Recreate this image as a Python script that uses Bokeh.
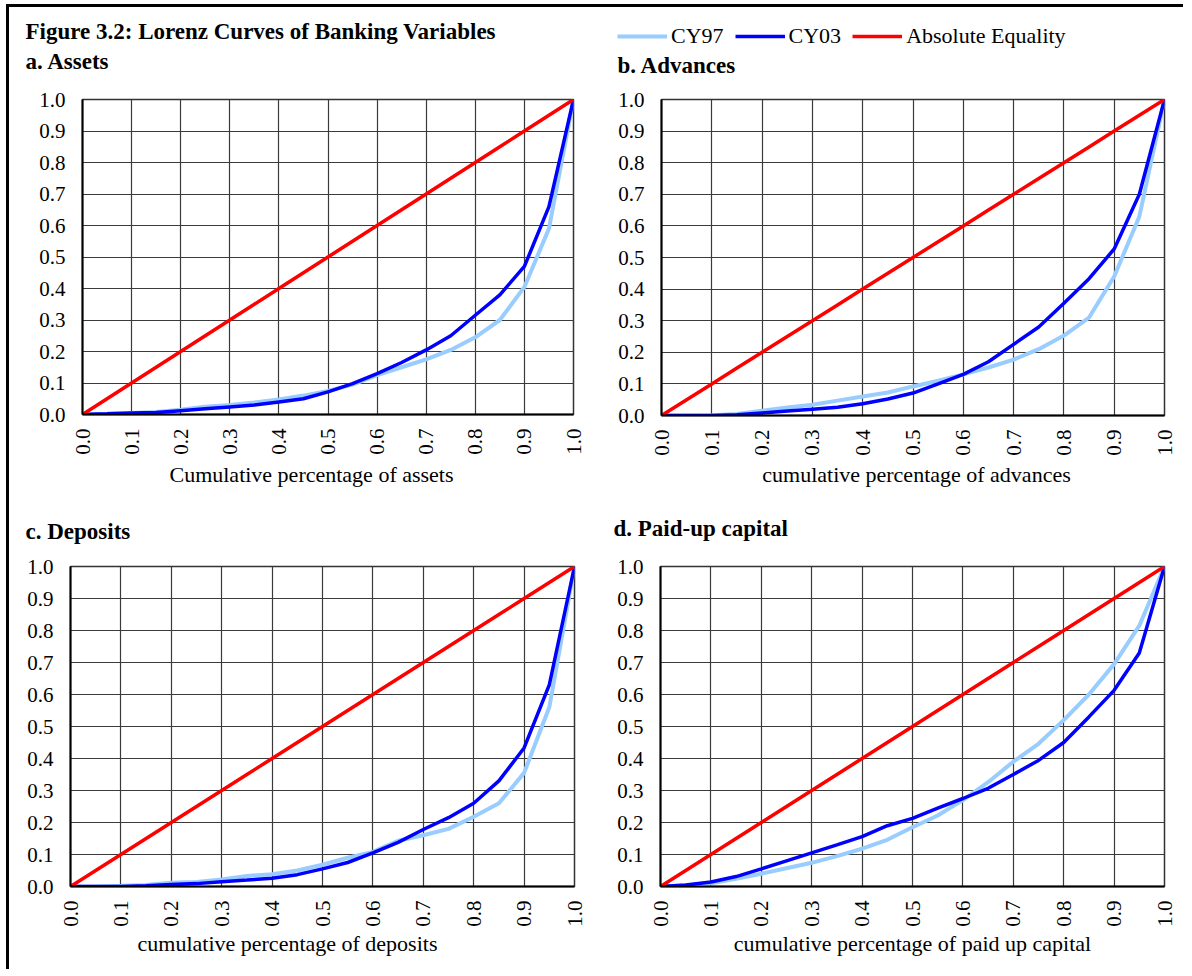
import math
from bokeh.plotting import figure
from bokeh.models import Range1d, FixedTicker, NumeralTickFormatter, Legend, LegendItem
from bokeh.core.properties import value
from bokeh.layouts import row, column
from bokeh.embed import file_html
from bokeh.resources import INLINE

# ---------------- data ----------------
share = [0.0, 0.05, 0.10, 0.15, 0.20, 0.25, 0.30, 0.35, 0.40, 0.45, 0.50,
         0.55, 0.60, 0.65, 0.70, 0.75, 0.80, 0.85, 0.90, 0.95, 1.0]
equality = [0.0, 0.05, 0.10, 0.15, 0.20, 0.25, 0.30, 0.35, 0.40, 0.45, 0.50,
            0.55, 0.60, 0.65, 0.70, 0.75, 0.80, 0.85, 0.90, 0.95, 1.0]

assets_cy97 = [0, 0.002, 0.005, 0.008, 0.015, 0.025, 0.030, 0.038, 0.048, 0.060, 0.075,
               0.095, 0.125, 0.150, 0.175, 0.205, 0.245, 0.300, 0.405, 0.590, 1.0]
assets_cy03 = [0, 0.002, 0.005, 0.006, 0.012, 0.018, 0.024, 0.030, 0.040, 0.050, 0.072,
               0.098, 0.130, 0.165, 0.205, 0.250, 0.315, 0.380, 0.470, 0.660, 1.0]

advances_cy97 = [0, 0, 0.001, 0.005, 0.015, 0.025, 0.034, 0.047, 0.060, 0.073, 0.092,
                 0.110, 0.130, 0.152, 0.177, 0.210, 0.253, 0.310, 0.440, 0.630, 1.0]
advances_cy03 = [0, 0, 0, 0.002, 0.008, 0.014, 0.020, 0.026, 0.037, 0.052, 0.071,
                 0.100, 0.130, 0.170, 0.225, 0.280, 0.355, 0.433, 0.527, 0.700, 1.0]

deposits_cy97 = [0, 0, 0.002, 0.005, 0.012, 0.014, 0.022, 0.033, 0.038, 0.050, 0.068,
                 0.090, 0.108, 0.143, 0.160, 0.180, 0.218, 0.260, 0.355, 0.560, 1.0]
deposits_cy03 = [0, 0, 0, 0.002, 0.006, 0.009, 0.015, 0.020, 0.026, 0.037, 0.055,
                 0.075, 0.105, 0.138, 0.178, 0.215, 0.260, 0.330, 0.433, 0.630, 1.0]

capital_cy97 = [0, 0.003, 0.010, 0.024, 0.040, 0.057, 0.074, 0.095, 0.118, 0.146, 0.185,
                0.222, 0.270, 0.326, 0.390, 0.446, 0.520, 0.600, 0.695, 0.815, 1.0]
capital_cy03 = [0, 0.005, 0.014, 0.031, 0.055, 0.080, 0.105, 0.130, 0.156, 0.190, 0.213,
                0.245, 0.275, 0.307, 0.350, 0.394, 0.450, 0.530, 0.613, 0.730, 1.0]

ticks = [0.0, 0.1, 0.2, 0.3, 0.4, 0.5, 0.6, 0.7, 0.8, 0.9, 1.0]

main_title = "Figure 3.2: Lorenz Curves of Banking Variables"
panel_titles = ["a. Assets", "b. Advances", "c. Deposits", "d. Paid-up capital"]
axis_titles = ["Cumulative percentage of assets", "cumulative percentage of advances",
               "cumulative percentage of deposits", "cumulative percentage of paid up capital"]
series_names = ["CY97", "CY03", "Absolute Equality"]

FONT = "Liberation Serif"
C97 = "#99CCFF"
C03 = "#0000FF"
CEQ = "#FF0000"
W97, W03, WEQ = 4, 3.5, 3.5
NAN = float("nan")


def panel(y97, y03, fw, fh, bl, br, bt, bb):
    p = figure(frame_width=fw, frame_height=fh,
               min_border_left=bl, min_border_right=br,
               min_border_top=bt, min_border_bottom=bb,
               x_range=Range1d(0, 1), y_range=Range1d(0, 1),
               output_backend="svg", toolbar_location=None,
               background_fill_color="white", border_fill_color="white")
    p.outline_line_color = "#333333"
    p.outline_line_width = 1.5
    for ax in (p.xaxis, p.yaxis):
        ax.ticker = FixedTicker(ticks=ticks)
        ax.formatter = NumeralTickFormatter(format="0.0")
        ax.major_tick_out = 0
        ax.major_tick_in = 0
        ax.minor_tick_out = 0
        ax.minor_tick_in = 0
        ax.axis_line_color = "black"
        ax.axis_line_width = 2
        ax.major_label_text_font = FONT
        ax.major_label_text_font_size = "21px"
        ax.major_label_text_color = "black"
    p.yaxis.major_label_standoff = 17
    p.xaxis.major_label_standoff = 14
    p.xaxis.major_label_orientation = math.pi / 2
    p.grid.ticker = FixedTicker(ticks=ticks)
    p.grid.grid_line_color = "#3a3a3a"
    p.grid.grid_line_width = 1.2
    p.grid.grid_line_alpha = 1.0

    p.line(share, y97, line_color=C97, line_width=W97)
    p.line(share, y03, line_color=C03, line_width=W03)
    p.line(share, equality, line_color=CEQ, line_width=WEQ)
    return p


def band(w, h):
    b = figure(frame_width=w, frame_height=h, min_border=0,
               x_range=Range1d(0, w), y_range=Range1d(h, 0),
               x_axis_type=None, y_axis_type=None,
               output_backend="svg", toolbar_location=None,
               background_fill_color="white", border_fill_color="white")
    b.outline_line_color = None
    b.grid.visible = False
    return b


def put_text(b, xs, ys, texts, size, bold=False, align="left"):
    b.text(x=xs, y=ys, text=texts, text_font=value(FONT), text_font_size=value(size),
           text_font_style="bold" if bold else "normal", text_color="black",
           text_align=align, text_baseline="middle")


TOTAL_W = 1174

# header band: figure title, legend, panel titles a/b
top = band(TOTAL_W, 81)
put_text(top, [16], [24], [main_title], "23px", bold=True)
put_text(top, [16, 608], [54, 58], [panel_titles[0], panel_titles[1]], "23px", bold=True)
# legend proxies (no visible data)
l97 = top.line([NAN], [NAN], line_color=C97, line_width=W97)
l03 = top.line([NAN], [NAN], line_color=C03, line_width=W03)
leq = top.line([NAN], [NAN], line_color=CEQ, line_width=WEQ)
legend = Legend(items=[LegendItem(label=series_names[0], renderers=[l97]),
                       LegendItem(label=series_names[1], renderers=[l03]),
                       LegendItem(label=series_names[2], renderers=[leq])],
                location=(608, 39), orientation="horizontal",
                padding=0, margin=0, spacing=11, label_standoff=4,
                glyph_width=50, glyph_height=20,
                label_text_font=FONT, label_text_font_size="22px",
                label_text_color="black",
                border_line_alpha=0, background_fill_alpha=0)
top.add_layout(legend)

pa = panel(assets_cy97, assets_cy03, 491, 315, 73, 25, 10, 47)
pb = panel(advances_cy97, advances_cy03, 503, 316, 63, 19, 11, 45)

mid = band(TOTAL_W, 96)
put_text(mid, [302, 907], [14, 14], [axis_titles[0], axis_titles[1]], "22px", align="center")
put_text(mid, [16, 604], [71, 68], [panel_titles[2], panel_titles[3]], "23px", bold=True)

pc = panel(deposits_cy97, deposits_cy03, 504, 320, 61, 24, 10, 44)
pd = panel(capital_cy97, capital_cy03, 504, 320, 62, 19, 10, 44)

bot = band(TOTAL_W, 39)
put_text(bot, [278, 903], [13, 13], [axis_titles[2], axis_titles[3]], "22px", align="center")

layout = column(top,
                row(pa, pb, spacing=0),
                mid,
                row(pc, pd, spacing=0),
                bot,
                spacing=0,
                styles={"margin-left": "6px", "margin-top": "4px",
                        "border-left": "3px solid black", "border-top": "3px solid black"})

open("out.html", "w").write(file_html(layout, INLINE))
